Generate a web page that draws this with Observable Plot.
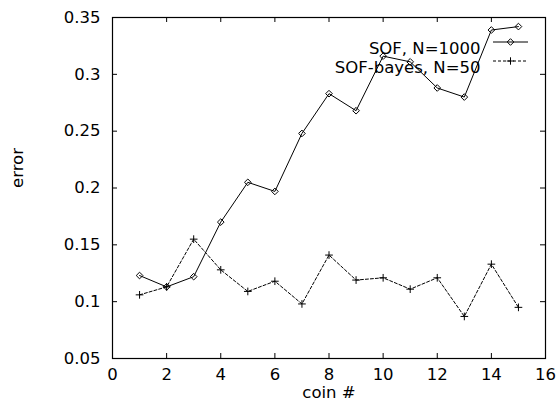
<!DOCTYPE html>
<html>
<head>
<meta charset="utf-8">
<script src="https://cdn.jsdelivr.net/npm/d3@7"></script>
<script src="https://cdn.jsdelivr.net/npm/@observablehq/plot@0.6"></script>
<style>
  html, body { margin: 0; padding: 0; background: #fff; }
</style>
</head>
<body>
<div id="chart"></div>
<script>
const coins = [1, 2, 3, 4, 5, 6, 7, 8, 9, 10, 11, 12, 13, 14, 15];
const sofErr = [0.123, 0.113, 0.122, 0.170, 0.205, 0.197, 0.248, 0.283, 0.268, 0.316, 0.311, 0.288, 0.280, 0.339, 0.342];
const bayesErr = [0.106, 0.113, 0.155, 0.128, 0.109, 0.118, 0.098, 0.141, 0.119, 0.121, 0.111, 0.121, 0.087, 0.133, 0.095];
const seriesNames = ["SOF, N=1000", "SOF-bayes, N=50"];
const xTicks = [0, 2, 4, 6, 8, 10, 12, 14, 16];
const yTicks = [0.05, 0.1, 0.15, 0.2, 0.25, 0.3, 0.35];
const xLabel = "coin #";
const yLabel = "error";

const sof = coins.map((c, i) => ({coin: c, err: sofErr[i]}));
const bayes = coins.map((c, i) => ({coin: c, err: bayesErr[i]}));

const W = 557, H = 403;
const mt = 17, mb = 45, ml = 112, mr = 12;
const fh = H - mt - mb, fw = W - ml - mr;
const tick = 5;

const chart = Plot.plot({
  width: W, height: H,
  marginTop: mt, marginBottom: mb, marginLeft: ml, marginRight: mr,
  style: {fontFamily: "DejaVu Sans", fontSize: "16.5px", color: "#000", background: "#fff"},
  x: {domain: [0, 16]},
  y: {domain: [0.05, 0.35]},
  marks: [
    Plot.axisX(xTicks, {anchor: "bottom", tickSize: 0, tickPadding: 10, tickFormat: d => String(d), label: null}),
    Plot.axisY(yTicks, {anchor: "left", tickSize: 0, tickPadding: 12, tickFormat: d => String(+d.toFixed(2)), label: null}),
    Plot.tickX(xTicks, {x: d => d, insetTop: fh - tick, stroke: "#000"}),
    Plot.tickX(xTicks, {x: d => d, insetBottom: fh - tick, stroke: "#000"}),
    Plot.tickY(yTicks, {y: d => d, insetRight: fw - tick, stroke: "#000"}),
    Plot.tickY(yTicks, {y: d => d, insetLeft: fw - tick, stroke: "#000"}),
    Plot.frame({stroke: "#000", strokeWidth: 1.2}),
    Plot.text([xLabel], {frameAnchor: "bottom", dy: 39, text: d => d}),
    Plot.text([yLabel], {frameAnchor: "left", dx: -95, rotate: -90, text: d => d}),
    Plot.line(sof, {x: "coin", y: "err", stroke: "#000", strokeWidth: 1}),
    Plot.dot(sof, {x: "coin", y: "err", symbol: "diamond2", r: 3, stroke: "#000", strokeWidth: 1}),
    Plot.line(bayes, {x: "coin", y: "err", stroke: "#000", strokeWidth: 1, strokeDasharray: "3,2"}),
    Plot.dot(bayes, {x: "coin", y: "err", symbol: "plus", r: 2.6, stroke: "#000", strokeWidth: 1}),
    Plot.text(seriesNames, {frameAnchor: "top-right", textAnchor: "end", dx: -65, text: d => d, filter: (d, i) => i === 0, dy: 25}),
    Plot.text(seriesNames, {frameAnchor: "top-right", textAnchor: "end", dx: -65, text: d => d, filter: (d, i) => i === 1, dy: 44})
  ]
});

document.getElementById("chart").appendChild(chart);

// legend samples
const svg = d3.select(chart);
const g = svg.append("g").attr("stroke", "#000").attr("fill", "none");
const lx1 = W - mr - 52, lx2 = W - mr - 17, lmid = (lx1 + lx2) / 2;
const rows = [mt + 25, mt + 44];
g.append("line").attr("x1", lx1).attr("x2", lx2).attr("y1", rows[0]).attr("y2", rows[0]);
g.append("path").attr("transform", `translate(${lmid},${rows[0]})`).attr("d", d3.symbol(d3.symbolDiamond2, 28)());
g.append("line").attr("x1", lx1).attr("x2", lx2).attr("y1", rows[1]).attr("y2", rows[1]).attr("stroke-dasharray", "3,2");
g.append("path").attr("transform", `translate(${lmid},${rows[1]})`).attr("d", d3.symbol(d3.symbolPlus, 20)());
</script>
</body>
</html>
